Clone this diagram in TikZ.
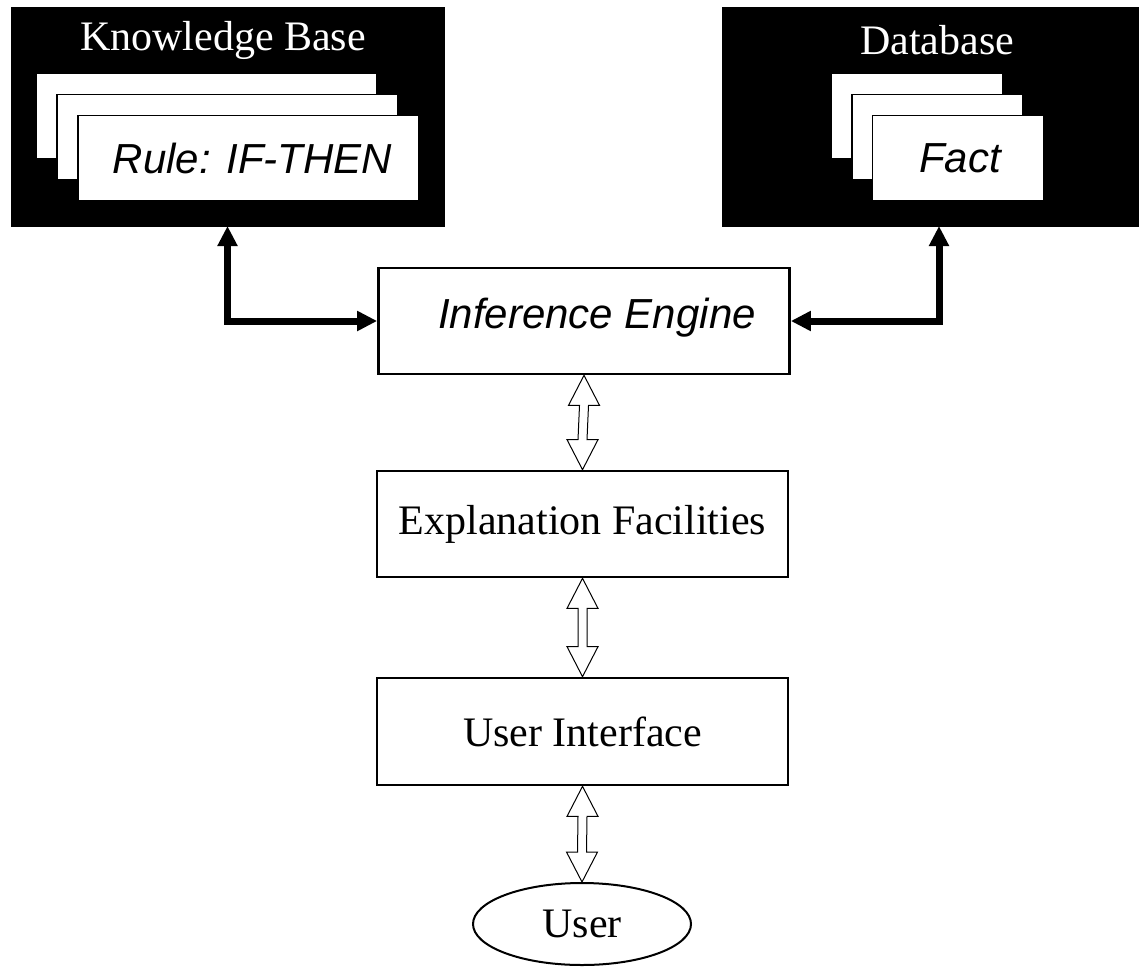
\documentclass[tikz,border=0pt]{standalone}
\usepackage{fontspec}
\setmainfont{Liberation Serif}
\setsansfont{Liberation Sans}
\usetikzlibrary{calc,arrows.meta,shapes.geometric}

% hollow two-way arrow from tip #1 (top) to tip #2 (bottom)
\newcommand{\twowayarrow}[2]{%
\draw[hollow] (#1) -- ++(15.5,30) -- ++(-11,0) -- ($(#2)+(4.5,-30)$) -- ++(11,0) -- (#2)
  -- ++(-15.5,-30) -- ++(11,0) -- ($(#1)+(-4.5,30)$) -- ++(-11,0) -- cycle;}

\begin{document}
\begin{tikzpicture}[x=1pt,y=-1pt,font=\fontsize{42}{50}\selectfont,
  blackbox/.style={fill=black,draw=black,inner sep=0pt,outer sep=0pt,minimum height=219pt},
  card/.style={fill=white,draw=black,line width=1.5pt,minimum height=85pt,inner sep=0pt},
  title/.style={text=white,inner sep=0pt},
  mainbox/.style={draw,line width=2.7pt,fill=white,minimum width=411pt,minimum height=106pt,inner sep=0pt},
  bigarrow/.style={line width=7pt,{Triangle[width=19pt,length=20pt]}-{Triangle[width=19pt,length=20pt]}},
  hollow/.style={line width=1pt,fill=white}]

\useasboundingbox (0,0) rectangle (1139,966);

% knowledge base and database
\node[blackbox,minimum width=433pt] (kb) at (227.5,116.5) {};
\node[title] (kbtitle) at (223,40) {Knowledge Base};
\foreach \i in {0,1,2}
  \node[card,minimum width=341pt] (kbcard\i) at ($(206.5,116)+(\i*21,\i*21)$) {};
\node (rule) at ($(kbcard2)+(4,0)$) {\sffamily\itshape Rule: IF-THEN};

\node[blackbox,minimum width=416pt] (db) at (930,116.5) {};
\node[title] (dbtitle) at (937,40) {Database};
\foreach \i in {0,1,2}
  \node[card,minimum width=171pt] (dbcard\i) at ($(917,116)+(\i*20.5,\i*21)$) {};
\node (fact) at ($(dbcard2)+(2,0)$) {\sffamily\itshape Fact};

% main chain
\node[mainbox] (ie) at (584,321) {};
\node (ietext) at (597,318) {\sffamily\itshape Inference Engine};
\node[mainbox] (ef) at (582.5,524) {Explanation Facilities};
\node[mainbox,minimum height=107pt] (ui) at (582.5,731.5) {User Interface};
\node[ellipse,draw,line width=2pt,minimum width=218pt,minimum height=82pt,inner sep=0pt] (user) at (582,924) {User};

\draw[bigarrow] (kb.south) |- (ie.west);
\draw[bigarrow] ($(db.south)+(9,0)$) |- (ie.east);

\twowayarrow{ie.south}{ef.north}
\twowayarrow{ef.south}{ui.north}
\twowayarrow{ui.south}{user.north}

\end{tikzpicture}
\end{document}
